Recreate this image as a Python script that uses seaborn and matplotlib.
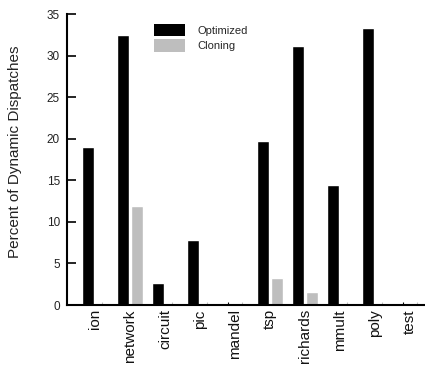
import matplotlib
matplotlib.use("Agg")
import matplotlib.pyplot as plt
import seaborn as sns
import pandas as pd

benchmarks = ["ion", "network", "circuit", "pic", "mandel",
              "tsp", "richards", "mmult", "poly", "test"]
optimized = [19.0, 32.5, 2.6, 7.8, 0.0, 19.7, 31.2, 14.4, 33.3, 0.0]
cloning = [0.0, 11.9, 0.0, 0.0, 0.0, 3.3, 1.6, 0.0, 0.0, 0.0]
series = ["Optimized", "Cloning"]
colors = ["#000000", "#bebebe"]

df = pd.DataFrame({
    "benchmark": benchmarks * 2,
    "series": [series[0]] * len(benchmarks) + [series[1]] * len(benchmarks),
    "value": optimized + cloning,
})

sns.set_theme(style="ticks")
plt.rcParams["font.family"] = ["Liberation Sans", "DejaVu Sans"]

fig = plt.figure(figsize=(4.25, 3.66), dpi=100)
ax = fig.add_axes([67 / 425, 61 / 366, 357 / 425, 291 / 366])

sns.barplot(data=df, x="benchmark", y="value", hue="series",
            palette=colors, width=0.8, gap=0.14, saturation=1,
            errorbar=None, ax=ax, legend=True)

# zero-valued bars get a short stub so their slot stays visible
for container, col in zip(ax.containers, colors):
    for bar in container:
        if bar.get_height() == 0:
            xc = bar.get_x() + bar.get_width() / 2
            ax.vlines(xc, 0, 0.35, color=col, linewidth=0.8)

ax.set_xlim(-0.8, 9.4)
ax.set_ylim(0, 35)
ax.set_yticks(range(0, 36, 5))
ax.set_xlabel("")
ax.set_ylabel("Percent of Dynamic Dispatches", fontsize=11, color="#222222")
ax.yaxis.set_label_coords(-0.126, 0.527)

sns.despine(ax=ax)
for side in ("left", "bottom"):
    ax.spines[side].set_linewidth(1.5)
    ax.spines[side].set_color("black")

ax.tick_params(axis="y", direction="in", length=6.5, width=1.2,
               labelsize=8.5, pad=5, colors="black", labelcolor="#222222")
ax.tick_params(axis="x", length=0, labelsize=11, pad=3, labelcolor="#111111")
plt.setp(ax.get_xticklabels(), rotation=90)

leg = ax.legend(loc="upper left", bbox_to_anchor=(154 / 425, 1 - 24 / 366),
                bbox_transform=fig.transFigure, frameon=False, fontsize=8,
                handlelength=2.8, handleheight=1.3, handletextpad=1.1,
                labelspacing=0.3, borderpad=0, borderaxespad=0)
for h in leg.legend_handles:
    h.set_edgecolor("none")

fig.savefig("out.png", dpi=100)
